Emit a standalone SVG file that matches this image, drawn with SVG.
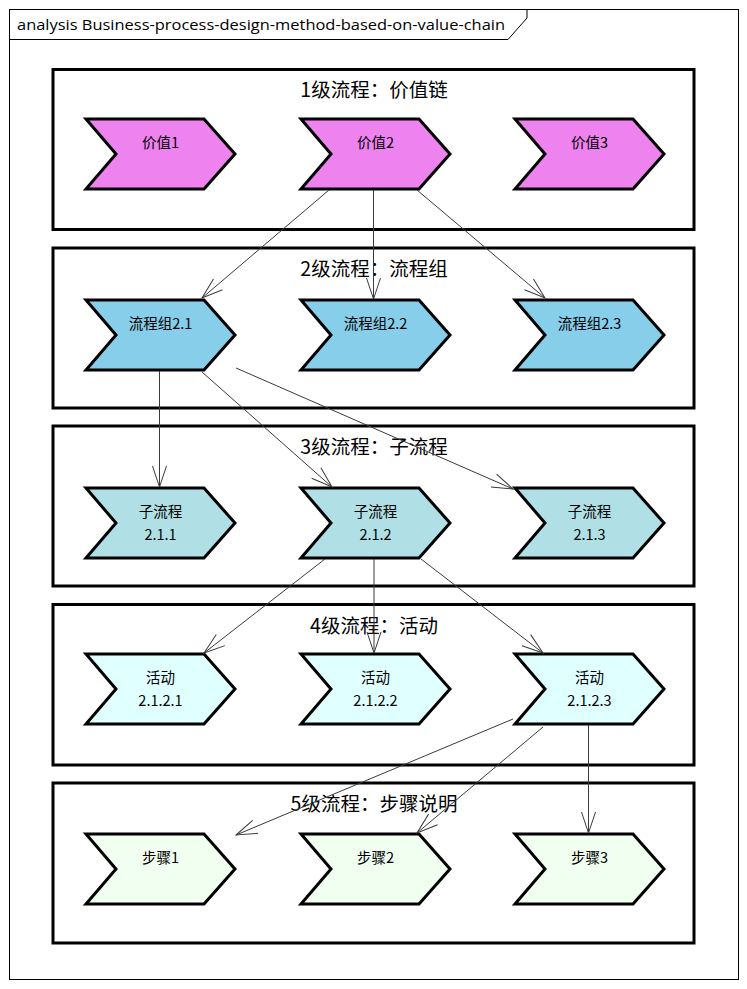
<svg xmlns="http://www.w3.org/2000/svg" width="747" height="989" viewBox="0 0 747 989">
<defs>
<style>
.frame{fill:#fff;stroke:#000;stroke-width:1}
.lvl{fill:#fff;stroke:#000;stroke-width:3}
.ttl{font-family:"Noto Sans CJK SC","Liberation Sans",sans-serif;font-size:19.5px;fill:#000;text-anchor:middle;dominant-baseline:central}
.lbl{font-family:"Noto Sans CJK SC","Liberation Sans",sans-serif;font-size:14.5px;fill:#000;text-anchor:middle;dominant-baseline:central}
.chev{stroke:#000;stroke-width:3;stroke-linejoin:miter}
.c1{fill:#EE82EE}.c2{fill:#87CEEB}.c3{fill:#B0E0E6}.c4{fill:#E0FFFF}.c5{fill:#F0FFF0}
.edge{fill:none;stroke:#3a3a3a;stroke-width:1;marker-end:url(#arr)}
</style>
<marker id="arr" markerUnits="userSpaceOnUse" viewBox="-23 -9 25 18" markerWidth="25" markerHeight="18" refX="0" refY="0" orient="auto">
<path d="M-21,-7 L0,0 L-21,7" fill="none" stroke="#3a3a3a" stroke-width="1"/>
</marker>
<path id="chev" d="M0,0 H118 L149,35 L118,70 H0 L30,35 Z"/>
</defs>
<rect x="0" y="0" width="747" height="989" fill="#fff"/>
<g id="frame">
<rect class="frame" x="9.5" y="9.5" width="729" height="970"/>
<path d="M9.5,39.5 H508 L527,18 V9.5" fill="none" stroke="#000" stroke-width="1"/>
<text x="17" y="30" font-family="'Open Sans','Noto Sans',sans-serif" font-size="15" textLength="488" lengthAdjust="spacingAndGlyphs" fill="#000">analysis Business-process-design-method-based-on-value-chain</text>
</g>
<g id="level1">
<rect class="lvl" x="53" y="69.5" width="641" height="160"/>
<text class="ttl" x="374" y="88.5">1级流程：价值链</text>
</g>
<g id="level2">
<rect class="lvl" x="53" y="248" width="641" height="160"/>
<text class="ttl" x="374" y="267.5">2级流程：流程组</text>
</g>
<g id="level3">
<rect class="lvl" x="53" y="426" width="641" height="160"/>
<text class="ttl" x="374" y="445.5">3级流程：子流程</text>
</g>
<g id="level4">
<rect class="lvl" x="53" y="604.5" width="641" height="160.5"/>
<text class="ttl" x="374" y="624.5">4级流程：活动</text>
</g>
<g id="level5">
<rect class="lvl" x="53" y="783" width="641" height="160"/>
<text class="ttl" x="374" y="802.5">5级流程：步骤说明</text>
</g>
<g id="v1"><use href="#chev" class="chev c1" x="86" y="119"/><text class="lbl" x="160.5" y="141">价值1</text></g>
<g id="v2"><use href="#chev" class="chev c1" x="301" y="119"/><text class="lbl" x="375.5" y="141">价值2</text></g>
<g id="v3"><use href="#chev" class="chev c1" x="515" y="119"/><text class="lbl" x="589.5" y="141">价值3</text></g>
<g id="g21"><use href="#chev" class="chev c2" x="86" y="300"/><text class="lbl" x="160.5" y="322">流程组2.1</text></g>
<g id="g22"><use href="#chev" class="chev c2" x="301" y="300"/><text class="lbl" x="375.5" y="322">流程组2.2</text></g>
<g id="g23"><use href="#chev" class="chev c2" x="515" y="300"/><text class="lbl" x="589.5" y="322">流程组2.3</text></g>
<g id="s211"><use href="#chev" class="chev c3" x="86" y="488"/><text class="lbl" x="160.5" y="510">子流程</text><text class="lbl" x="160.5" y="533">2.1.1</text></g>
<g id="s212"><use href="#chev" class="chev c3" x="301" y="488"/><text class="lbl" x="375.5" y="510">子流程</text><text class="lbl" x="375.5" y="533">2.1.2</text></g>
<g id="s213"><use href="#chev" class="chev c3" x="515" y="488"/><text class="lbl" x="589.5" y="510">子流程</text><text class="lbl" x="589.5" y="533">2.1.3</text></g>
<g id="a2121"><use href="#chev" class="chev c4" x="86" y="654"/><text class="lbl" x="160.5" y="676">活动</text><text class="lbl" x="160.5" y="699">2.1.2.1</text></g>
<g id="a2122"><use href="#chev" class="chev c4" x="301" y="654"/><text class="lbl" x="375.5" y="676">活动</text><text class="lbl" x="375.5" y="699">2.1.2.2</text></g>
<g id="a2123"><use href="#chev" class="chev c4" x="515" y="654"/><text class="lbl" x="589.5" y="676">活动</text><text class="lbl" x="589.5" y="699">2.1.2.3</text></g>
<g id="st1"><use href="#chev" class="chev c5" x="86" y="834"/><text class="lbl" x="160.5" y="856">步骤1</text></g>
<g id="st2"><use href="#chev" class="chev c5" x="301" y="834"/><text class="lbl" x="375.5" y="856">步骤2</text></g>
<g id="st3"><use href="#chev" class="chev c5" x="515" y="834"/><text class="lbl" x="589.5" y="856">步骤3</text></g>
<g id="connectors">
<line class="edge" x1="329" y1="190" x2="202" y2="298"/>
<line class="edge" x1="373.5" y1="190" x2="373.5" y2="299"/>
<line class="edge" x1="417" y1="190" x2="545" y2="298"/>
<line class="edge" x1="159.5" y1="371" x2="159.5" y2="487"/>
<line class="edge" x1="202" y1="372" x2="332" y2="487"/>
<line class="edge" x1="236" y1="368" x2="513" y2="489"/>
<line class="edge" x1="325" y1="559" x2="204" y2="653"/>
<line class="edge" x1="374" y1="559" x2="374" y2="653"/>
<line class="edge" x1="421" y1="559" x2="543" y2="653"/>
<line class="edge" x1="513" y1="719" x2="236" y2="835"/>
<line class="edge" x1="543" y1="727" x2="417" y2="833"/>
<line class="edge" x1="588.5" y1="725" x2="588.5" y2="833"/>
</g>
</svg>
